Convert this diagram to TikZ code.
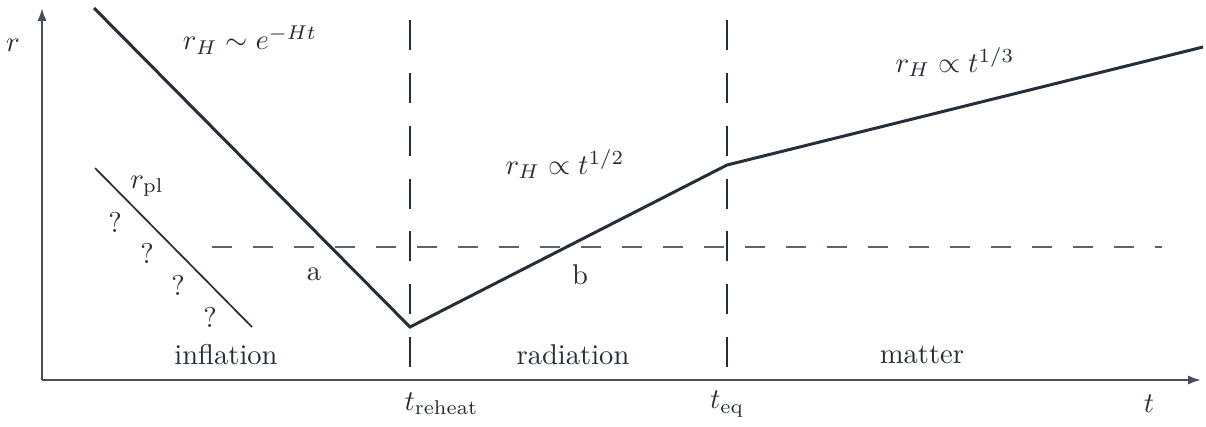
\documentclass[tikz,border=0pt]{standalone}
\usetikzlibrary{arrows.meta}
\definecolor{inkc}{RGB}{38,46,56}
\definecolor{axisc}{RGB}{70,80,92}
\definecolor{dashc}{RGB}{90,100,112}
\begin{document}
\begin{tikzpicture}[x=0.35pt,y=-0.35pt,
  axisline/.style={draw=axisc,line width=0.75pt,-{Latex[length=4.5pt,width=3.2pt]}},
  curve/.style={draw=inkc,line width=1.05pt,line join=miter},
  plline/.style={draw=inkc,line width=0.6pt},
  vdash/.style={draw=inkc,line width=0.6pt,dash pattern=on 10.5pt off 8pt},
  hdash/.style={draw=dashc,line width=0.55pt,dash pattern=on 7pt off 7.35pt},
  lbl/.style={text=inkc,inner sep=0pt}]
\useasboundingbox (0,0) rectangle (1206,426);
\fill[white] (0,0) rectangle (1206,426);
% axes
\coordinate (O) at (42,380);
\coordinate (ytip) at (42,8);
\coordinate (xtip) at (1201,380);
\draw[axisline] (O) -- (ytip);
\draw[axisline] (O) -- (xtip);
% dashed guides
\coordinate (vr1) at (410,20);
\coordinate (vr2) at (410,368);
\coordinate (ve1) at (727,20);
\coordinate (ve2) at (727,368);
\coordinate (h1) at (212,247);
\coordinate (h2) at (1162,247);
\draw[vdash] (vr1) -- (vr2);
\draw[vdash] (ve1) -- (ve2);
\draw[hdash] (h1) -- (h2);
% main curve
\coordinate (s) at (94,8);
\coordinate (m) at (410,327);
\coordinate (k) at (727,165);
\coordinate (e) at (1203,47);
\draw[curve] (s) -- (m) -- (k) -- (e);
% planck line
\coordinate (p1) at (95,168);
\coordinate (p2) at (252,327);
\draw[plline] (p1) -- (p2);
% labels
\node[lbl] (rlab) at (13,45) {$r$};
\node[lbl] (tlab) at (1149,404) {$t$};
\node[lbl] (rh1) at (250,40) {$r_H \sim e^{-Ht}$};
\node[lbl] (rh2) at (565,164) {$r_H \propto t^{1/2}$};
\node[lbl] (rh3) at (955,62) {$r_H \propto t^{1/3}$};
\node[lbl] (rpl) at (147,186) {$r_{\mathrm{pl}}$};
\node[lbl] (q1) at (115,222) {?};
\node[lbl] (q2) at (147,253) {?};
\node[lbl] (q3) at (178,285) {?};
\node[lbl] (q4) at (210,317) {?};
\node[lbl] (alab) at (314,274) {a};
\node[lbl] (blab) at (580,275) {b};
\node[lbl] (infl) at (226,355) {inflation};
\node[lbl] (rad) at (573,355) {radiation};
\node[lbl] (mat) at (922,355) {matter};
\node[lbl,anchor=west] (trh) at (404,404) {$t_{\mathrm{reheat}}$};
\node[lbl] (teq) at (727,404) {$t_{\mathrm{eq}}$};
\end{tikzpicture}
\end{document}
